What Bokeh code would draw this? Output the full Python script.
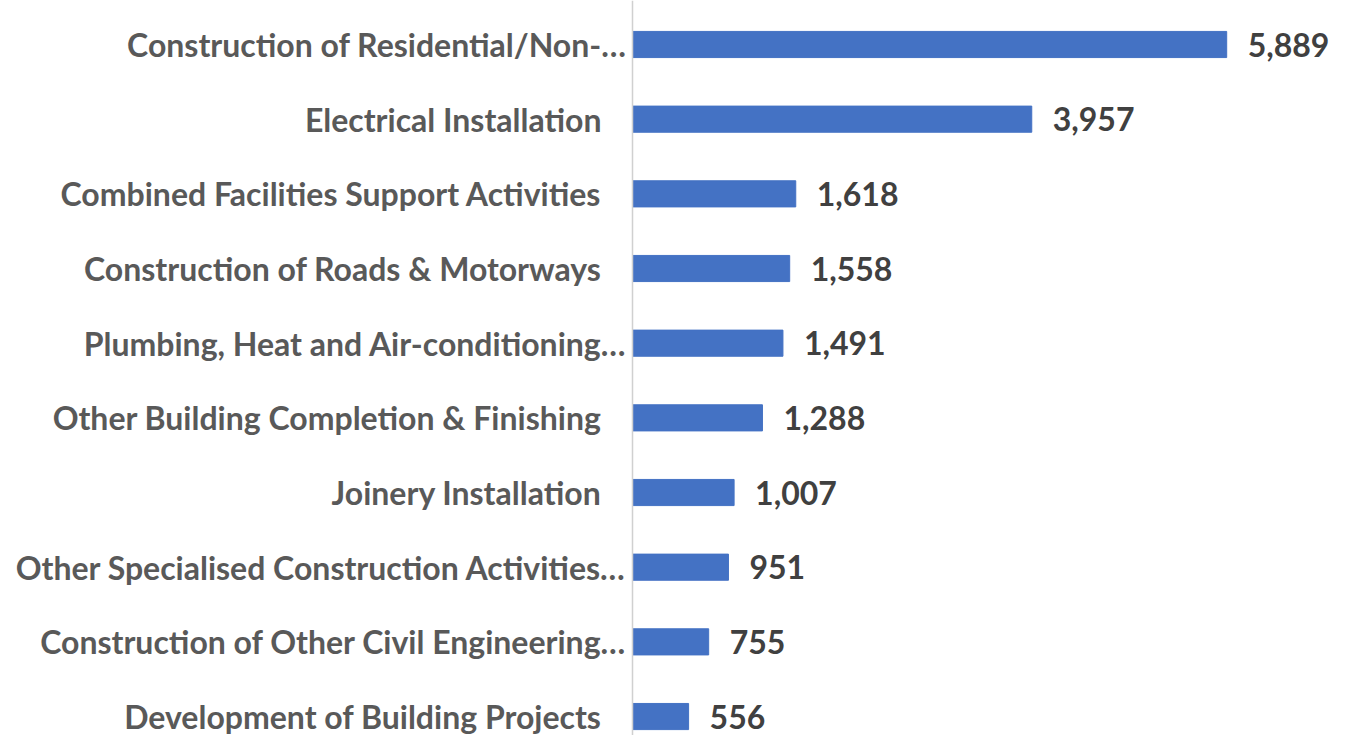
from bokeh.plotting import figure
from bokeh.models import ColumnDataSource, Range1d, Span
from bokeh.core.properties import value
from bokeh.embed import file_html
from bokeh.resources import INLINE

categories = [
    "Construction of Residential/Non-…",
    "Electrical Installation",
    "Combined Facilities Support Activities",
    "Construction of Roads & Motorways",
    "Plumbing, Heat and Air-conditioning…",
    "Other Building Completion & Finishing",
    "Joinery Installation",
    "Other Specialised Construction Activities…",
    "Construction of Other Civil Engineering…",
    "Development of Building Projects",
]
counts = [5889, 3957, 1618, 1558, 1491, 1288, 1007, 951, 755, 556]

n = len(categories)
pos = list(range(n))
label_offsets = [-6 if c.endswith("…") else -31 for c in categories]
value_labels = [f"{v:,}" for v in counts]

src = ColumnDataSource(dict(
    y=pos, v=counts, cat=categories, loff=label_offsets, vlab=value_labels,
    zero=[0] * n,
))

W, H = 1336, 735
px_per_unit = 0.1009
x0_px = 632
spacing = 74.67
top_px = 44

x_range = Range1d(-x0_px / px_per_unit, (W - x0_px) / px_per_unit)
y_range = Range1d((n - 1) + (H - top_px - spacing * (n - 1)) / spacing, -top_px / spacing)

p = figure(width=W, height=H, x_range=x_range, y_range=y_range,
           output_backend="svg", toolbar_location=None,
           min_border=0, min_border_left=0, min_border_right=0,
           min_border_top=0, min_border_bottom=0)
p.axis.visible = False
p.grid.visible = False
p.outline_line_color = None
p.background_fill_color = "white"

p.hbar(y="y", left=0, right="v", height=0.35, source=src,
       fill_color="#4472C4", line_color="#4472C4")

p.add_layout(Span(location=0, dimension="height", line_color="#d0d0d0", line_width=1.5))

p.text(x="zero", y="y", text="cat", x_offset="loff", source=src,
       text_align="right", text_baseline="middle",
       text_font=value("Lato"), text_font_style="bold",
       text_font_size="32px", text_color="#595959")

p.text(x="v", y="y", text="vlab", x_offset=21, source=src,
       text_align="left", text_baseline="middle",
       text_font=value("Lato"), text_font_style="bold",
       text_font_size="32px", text_color="#404040")

open("out.html", "w").write(file_html(p, INLINE))
